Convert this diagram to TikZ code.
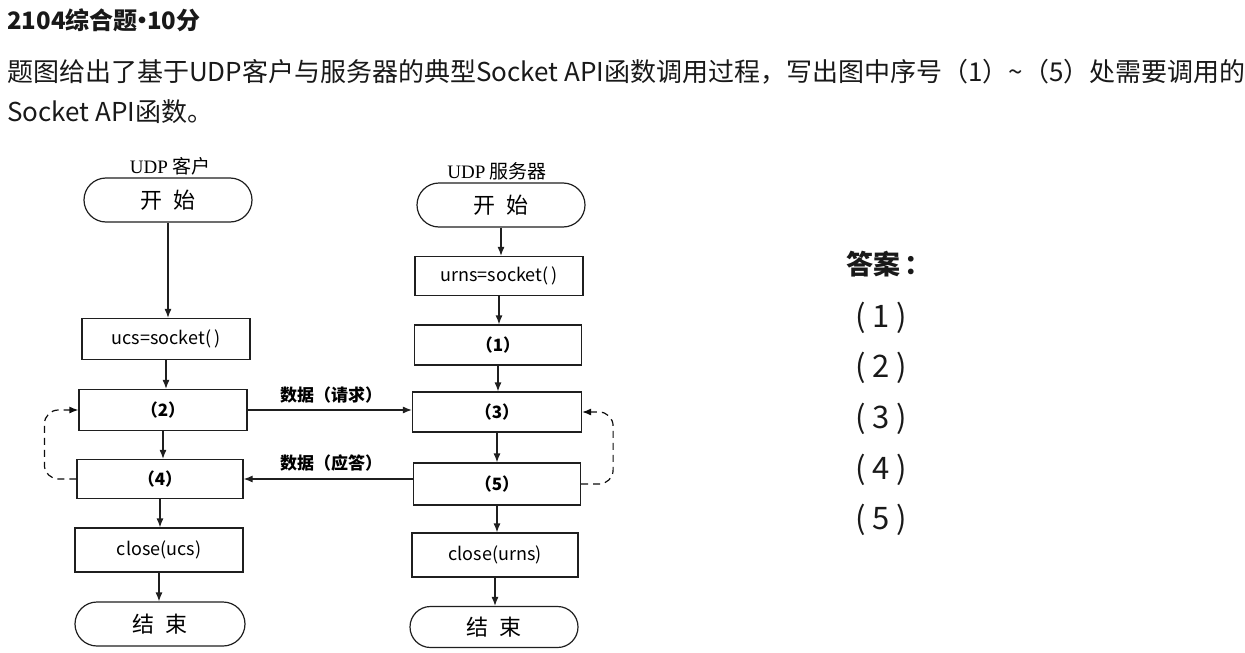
\documentclass[tikz,border=0pt]{standalone}
\usepackage{fontspec}
\setmainfont{Noto Sans CJK SC}
\newfontfamily\serifl{Liberation Serif}
\usetikzlibrary{arrows.meta,shapes.misc}
\begin{document}
\begin{tikzpicture}[x=1pt,y=-1pt,
  ink/.style={draw=black!88, line width=1.2pt},
  box/.style={ink, rectangle, minimum width=168pt, minimum height=41pt, inner sep=0pt, font=\fontsize{18}{18}\selectfont},
  term/.style={box, rounded rectangle, minimum height=44pt, font=\fontsize{22}{22}\selectfont},
  numbox/.style={box, font=\bfseries\fontsize{17}{17}\selectfont},
  arr/.style={ink, -{Latex[length=9pt,width=7pt]}},
  dashloop/.style={arr, draw=black!95, dash pattern=on 7pt off 5pt, rounded corners=14pt},
  lbl/.style={inner sep=0pt, font=\bfseries\fontsize{17}{17}\selectfont},
  head/.style={inner sep=0pt, font=\fontsize{19}{19}\selectfont},
  txt/.style={anchor=west, inner sep=0pt, font=\fontsize{26}{26}\selectfont, text=black!90},
  ans/.style={anchor=west, inner sep=0pt, font=\fontsize{31}{31}\selectfont, text=black!90}
]
\useasboundingbox (0,0) rectangle (1245,653);
% header text
\node[txt, font=\bfseries\fontsize{24}{24}\selectfont] (title) at (7,20) {2104综合题\kern-0.3em•\kern-0.3em10分};
\node[txt] (q1) at (7,72) {题图给出了基于UDP客户与服务器的典型Socket API函数调用过程，写出图中序号（1）{\char"7E}（5）处需要调用的};
\node[txt] (q2) at (7,112) {Socket API函数。};
% client
\node[head] (chead) at (170,166) {{\serifl UDP} 客户};
\node[term] (cstart) at (168,200) {开\hspace{0.5em}始};
\node[box] (csock) at (166,339) {ucs=socket(\,)};
\node[numbox] (c2) at (163,410) {（2）};
\node[numbox, minimum width=166pt, minimum height=39pt] (c4) at (160,479) {（4）};
\node[box, minimum height=44pt] (cclose) at (159,550) {close(ucs)};
\node[term, minimum width=170pt] (cend) at (160,624) {结\hspace{0.5em}束};
% server
\node[head] (shead) at (497,171) {{\serifl UDP} 服务器};
\node[term] (sstart) at (501,205) {开\hspace{0.5em}始};
\node[box, minimum height=39pt] (ssock) at (499,276) {urns=socket(\,)};
\node[numbox, minimum width=167pt, minimum height=40pt] (s1) at (498,345) {（1）};
\node[numbox, minimum width=169pt, minimum height=40pt] (s3) at (497,412) {（3）};
\node[numbox, minimum width=167pt, minimum height=42pt] (s5) at (497,484) {（5）};
\node[box, minimum width=166pt, minimum height=44pt] (sclose) at (495,555) {close(urns)};
\node[term, minimum height=41pt] (send) at (494,627) {结\hspace{0.5em}束};
% vertical arrows
\foreach \a/\b in {cstart/csock, csock/c2, c2/c4, c4/cclose, cclose/cend,
                   sstart/ssock, ssock/s1, s1/s3, s3/s5, s5/sclose, sclose/send}
  \draw[arr] (\a.south) -- (\a.south |- \b.north);
% data arrows
\draw[arr] (c2.east) -- (c2.east -| s3.west);
\node[lbl] (req) at (331,395) {数据（请求）};
\draw[arr] (s5.west |- c4.east) -- (c4.east);
\node[lbl] (rep) at (331,463) {数据（应答）};
% loops
\draw[dashloop] (c4.west) -- ++(-32,0) |- (c2.west);
\draw[dashloop] (s5.east) -- ++(32,0) |- (s3.east);
% answers
\node[ans, font=\bfseries\fontsize{27}{27}\selectfont] (answer) at (846,264) {答案\hspace{0.15em}：};
\node[ans] (a1) at (855,318) {( 1 )};
\node[ans] (a2) at (855,368) {( 2 )};
\node[ans] (a3) at (855,419) {( 3 )};
\node[ans] (a4) at (855,470) {( 4 )};
\node[ans] (a5) at (855,520) {( 5 )};
\end{tikzpicture}
\end{document}
